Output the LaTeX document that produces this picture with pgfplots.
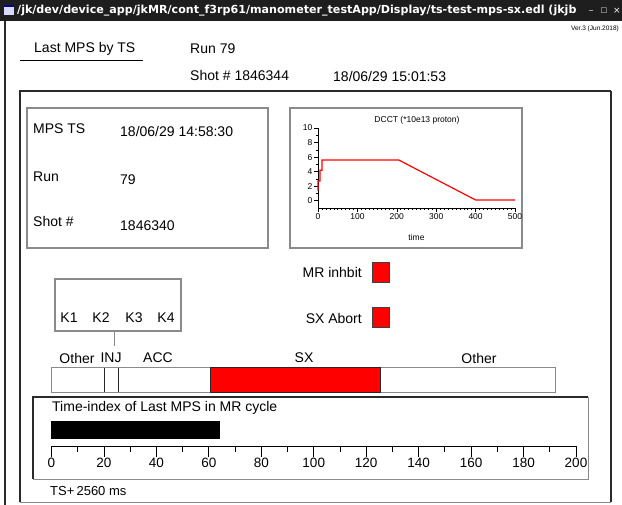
\documentclass[border=0pt]{standalone}
\usepackage{pgfplots}
\pgfplotsset{compat=1.18}
\usepackage{fontspec}
\setmainfont{Liberation Sans}
\newfontfamily\titlefont{DejaVu Sans}
\definecolor{tbar}{HTML}{1E1E1E}
\definecolor{frm}{HTML}{2A2A2A}
\definecolor{gfrm}{HTML}{8A8A8A}
\newcommand{\fs}[1]{\fontsize{#1}{#1}\selectfont}
\begin{document}
\begin{tikzpicture}[x=1pt,y=1pt]
\path[use as bounding box] (0,0) rectangle (622,-505);
\fill[white] (0,0) rectangle (622,-505);
% title bar
\fill[tbar] (0,0) rectangle (622,-21);
\fill[white!85!blue] (4,-5) rectangle (14,-15);
\fill[blue!55!black] (4,-5) rectangle (14,-7.5);
\begin{scope}
\clip (16,0) rectangle (579,-21);
\node[anchor=west, text=white, inner sep=0pt, font=\titlefont\bfseries\fs{11.1}] at (17,-10.5) {/jk/dev/device\_app/jkMR/cont\_f3rp61/manometer\_testApp/Display/ts-test-mps-sx.edl (jkjb};
\end{scope}
\node[text=white, inner sep=0pt, font=\titlefont\fs{8}] at (591,-10) {\_};
\node[text=white, inner sep=0pt, font=\titlefont\fs{7}] at (604,-10.5) {□};
\node[text=white, inner sep=0pt, font=\titlefont\fs{9}] at (617,-10.5) {×};
% window left border
\draw[frm, line width=1.2pt] (5,-21) -- (5,-505);
% header
\node[anchor=east, inner sep=0pt, font=\fs{6.5}] at (619,-29) {Ver.3 (Jun.2018)};
\node[anchor=west, inner sep=0pt, font=\fs{14}] at (34,-49) {Last MPS by TS};
\draw[black, line width=1pt] (20,-61) -- (143,-61);
\node[anchor=west, inner sep=0pt, font=\fs{14}] at (190,-49) {Run 79};
\node[anchor=west, inner sep=0pt, font=\fs{14}] at (190,-75) {Shot \# 1846344};
\node[anchor=west, inner sep=0pt, font=\fs{14}] at (333,-76) {18/06/29 15:01:53};
% big box
\draw[gfrm, line width=1pt] (20,-502) -- (611,-502);
\draw[frm, line width=1.5pt] (20,-502) -- (20,-91) -- (611,-91);
\draw[frm, line width=2pt] (611,-91) -- (611,-502);
% MPS box
\draw[gfrm, line width=1.2pt] (27,-108) rectangle (268,-248);
\node[anchor=west, inner sep=0pt, font=\fs{14}] at (33,-129) {MPS TS};
\node[anchor=west, inner sep=0pt, font=\fs{14}] at (120,-131) {18/06/29 14:58:30};
\node[anchor=west, inner sep=0pt, font=\fs{14}] at (33,-177) {Run};
\node[anchor=west, inner sep=0pt, font=\fs{14}] at (120,-180) {79};
\node[anchor=west, inner sep=0pt, font=\fs{14}] at (33,-221) {Shot \#};
\node[anchor=west, inner sep=0pt, font=\fs{14}] at (120,-226) {1846340};
% DCCT box
\draw[gfrm, line width=1.2pt] (290,-108) rectangle (522,-248);
\node[inner sep=0pt, font=\fs{8.5}] at (417,-120) {DCCT (*10e13 proton)};
\begin{axis}[
  at={(318pt,-208pt)}, anchor=south west,
  scale only axis, width=197pt, height=80pt,
  xmin=0, xmax=500, ymin=-1, ymax=10,
  axis lines=left, axis line style={-, black, line width=0.6pt},
  xtick={0,100,...,500}, ytick={0,2,...,10},
  minor x tick num=9, minor y tick num=1,
  tick align=outside, major tick length=4pt, minor tick length=2pt,
  every tick/.style={black, line width=0.5pt},
  /pgf/number format/assume math mode=true,
  ticklabel style={font=\fs{8.5}, inner sep=1.5pt},
  xlabel={time},
  xlabel style={font=\fs{8.5}, at={(axis description cs:0.5,0)}, anchor=center, yshift=-29pt},
  clip=false,
]
\addplot[red, line width=1.2pt] coordinates {(0,1.4) (0,2.7) (5,2.7) (5,4.2) (10,4.2) (10,5.6) (205,5.6) (400,0.1) (500,0.1)};
\end{axis}
% indicators
\node[anchor=east, inner sep=0pt, font=\fs{14}] at (362,-272) {MR inhbit};
\draw[fill=red, draw=black!75, line width=0.8pt] (372,-262) rectangle (389,-282);
\node[anchor=east, inner sep=0pt, font=\fs{14}] at (362,-318) {SX Abort};
\draw[fill=red, draw=black!75, line width=0.8pt] (372,-307) rectangle (389,-327);
% K box
\draw[gfrm, line width=1.2pt] (55,-279) rectangle (181,-331);
\node[inner sep=0pt, font=\fs{14}] at (69,-318) {K1};
\node[inner sep=0pt, font=\fs{14}] at (101,-318) {K2};
\node[inner sep=0pt, font=\fs{14}] at (134,-318) {K3};
\node[inner sep=0pt, font=\fs{14}] at (166,-318) {K4};
\draw[gfrm, line width=1pt] (114,-331) -- (114,-346);
% segment labels
\node[inner sep=0pt, font=\fs{14}] at (77,-358) {Other};
\node[inner sep=0pt, font=\fs{14}] at (111,-358) {INJ};
\node[inner sep=0pt, font=\fs{14}] at (158,-358) {ACC};
\node[inner sep=0pt, font=\fs{14}] at (304,-358) {SX};
\node[inner sep=0pt, font=\fs{14}] at (479,-358) {Other};
\begin{axis}[
  at={(52pt,-392pt)}, anchor=south west,
  scale only axis, width=503pt, height=24pt,
  xmin=52, xmax=555, ymin=0, ymax=1,
  hide axis, clip=false,
]
\addplot[fill=white, draw=gfrm, line width=1pt] coordinates {(52,0) (555,0) (555,1) (52,1)} -- cycle;
\addplot[fill=red, draw=black!85, line width=1pt] coordinates {(210,0) (380,0) (380,1) (210,1)} -- cycle;
\addplot[black!85, line width=1pt] coordinates {(104,0) (104,1)};
\addplot[black!85, line width=1pt] coordinates {(118,0) (118,1)};
\end{axis}
% time index box
\draw[gfrm, line width=1pt] (33,-479) -- (588,-479) -- (588,-397);
\draw[frm, line width=1.2pt] (33,-479) -- (33,-397) -- (588,-397);
\node[anchor=west, inner sep=0pt, font=\fs{14}] at (52,-408) {Time-index of Last MPS in MR cycle};
\begin{axis}[
  at={(51.5pt,-446pt)}, anchor=south west,
  scale only axis, width=524.5pt, height=25pt,
  xmin=0, xmax=200, ymin=0, ymax=25,
  axis x line=bottom, axis y line=none,
  axis line style={-, black, line width=0.8pt},
  xtick={0,20,...,200}, minor x tick num=1,
  tick align=outside, major tick length=11pt, minor tick length=6pt,
  every tick/.style={black, line width=0.8pt},
  /pgf/number format/assume math mode=true,
  xticklabel style={font=\fs{13.5}, inner sep=1pt},
  clip=false,
]
\addplot[fill=black, draw=black] coordinates {(0,8) (64,8) (64,25) (0,25)} -- cycle;
\end{axis}
\node[anchor=west, inner sep=0pt, font=\fs{13}] at (50,-491) {TS+\,2560 ms};
\end{tikzpicture}
\end{document}
